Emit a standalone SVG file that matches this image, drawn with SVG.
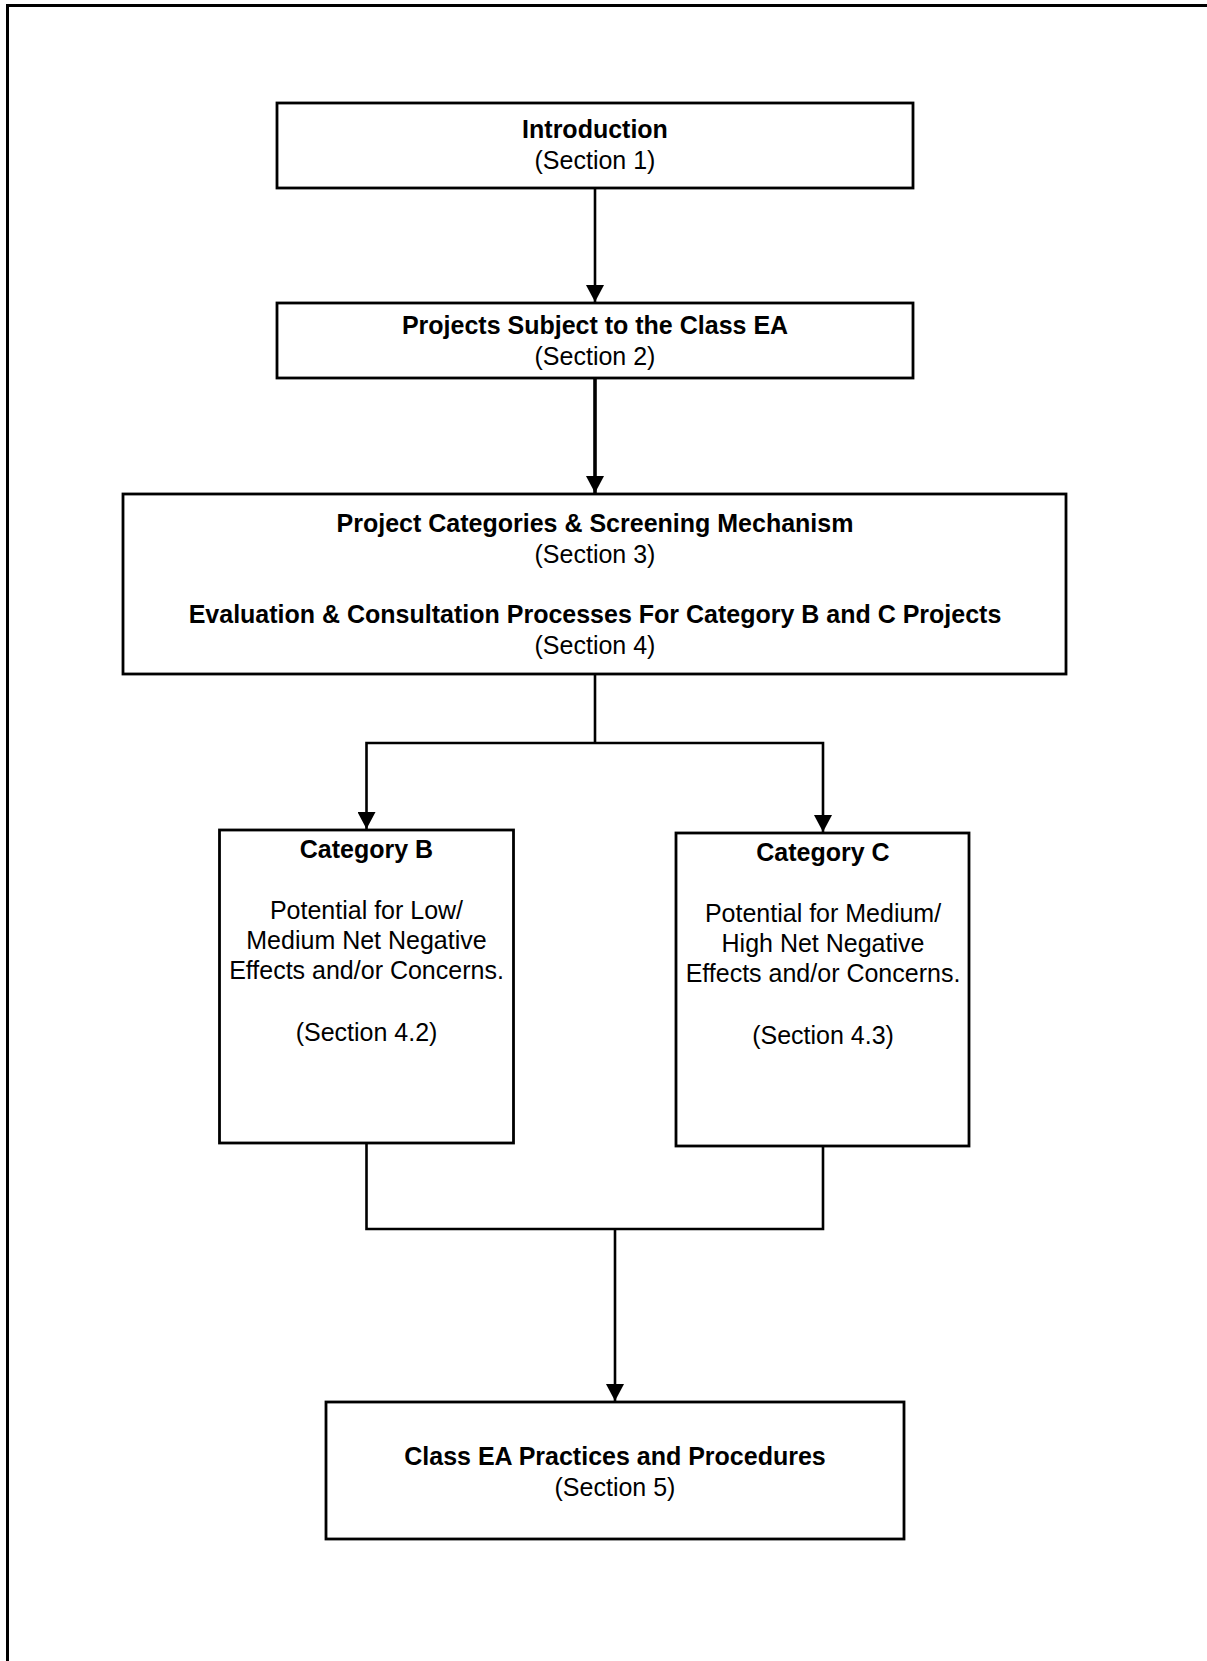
<svg xmlns="http://www.w3.org/2000/svg" width="1207" height="1661" viewBox="0 0 1207 1661">
<defs>
<style>
.box{fill:#fff;stroke:#000;stroke-width:2.8}
.conn{fill:none;stroke:#000;stroke-width:2.6}
.b{font-family:"Liberation Sans",Arial,sans-serif;font-weight:bold;font-size:25px;text-anchor:middle;fill:#000}
.r{font-family:"Liberation Sans",Arial,sans-serif;font-size:25px;text-anchor:middle;fill:#000}
</style>
<marker id="ah" markerUnits="userSpaceOnUse" markerWidth="18" markerHeight="18" refX="17" refY="9" orient="auto">
<path d="M0,0 L17,9 L0,18 Z" fill="#000"/>
</marker>
</defs>
<rect width="1207" height="1661" fill="#fff"/>
<path d="M7.5,1661 V5.5 H1207" fill="none" stroke="#000" stroke-width="3"/>

<g id="connectors">
<line class="conn" x1="595" y1="188" x2="595" y2="302" marker-end="url(#ah)"/>
<line class="conn" x1="595" y1="378" x2="595" y2="493" style="stroke-width:3.6" marker-end="url(#ah)"/>
<polyline class="conn" points="595,674 595,743"/>
<polyline class="conn" points="595,743 366.5,743 366.5,829" marker-end="url(#ah)"/>
<polyline class="conn" points="595,743 823,743 823,832" marker-end="url(#ah)"/>
<polyline class="conn" points="366.5,1143 366.5,1229 823,1229 823,1146"/>
<line class="conn" x1="615" y1="1229" x2="615" y2="1401" marker-end="url(#ah)"/>
</g>

<g id="intro">
<rect class="box" x="277" y="103" width="636" height="85"/>
<text class="b" x="595" y="138">Introduction</text>
<text class="r" x="595" y="169">(Section 1)</text>
</g>

<g id="projects">
<rect class="box" x="277" y="303" width="636" height="75"/>
<text class="b" x="595" y="333.5">Projects Subject to the Class EA</text>
<text class="r" x="595" y="364.5">(Section 2)</text>
</g>

<g id="categories">
<rect class="box" x="123" y="494" width="943" height="180"/>
<text class="b" x="595" y="532">Project Categories &amp; Screening Mechanism</text>
<text class="r" x="595" y="563">(Section 3)</text>
<text class="b" x="595" y="623">Evaluation &amp; Consultation Processes For Category B and C Projects</text>
<text class="r" x="595" y="654">(Section 4)</text>
</g>

<g id="catB">
<rect class="box" x="219.5" y="830" width="294" height="313"/>
<text class="b" x="366.5" y="858">Category B</text>
<text class="r" x="366.5" y="919">Potential for Low/</text>
<text class="r" x="366.5" y="949">Medium Net Negative</text>
<text class="r" x="366.5" y="979">Effects and/or Concerns.</text>
<text class="r" x="366.5" y="1040.5">(Section 4.2)</text>
</g>

<g id="catC">
<rect class="box" x="676" y="833" width="293" height="313"/>
<text class="b" x="823" y="861">Category C</text>
<text class="r" x="823" y="922">Potential for Medium/</text>
<text class="r" x="823" y="952">High Net Negative</text>
<text class="r" x="823" y="982">Effects and/or Concerns.</text>
<text class="r" x="823" y="1043.5">(Section 4.3)</text>
</g>

<g id="practices">
<rect class="box" x="326" y="1402" width="578" height="137"/>
<text class="b" x="615" y="1465">Class EA Practices and Procedures</text>
<text class="r" x="615" y="1496">(Section 5)</text>
</g>
</svg>
